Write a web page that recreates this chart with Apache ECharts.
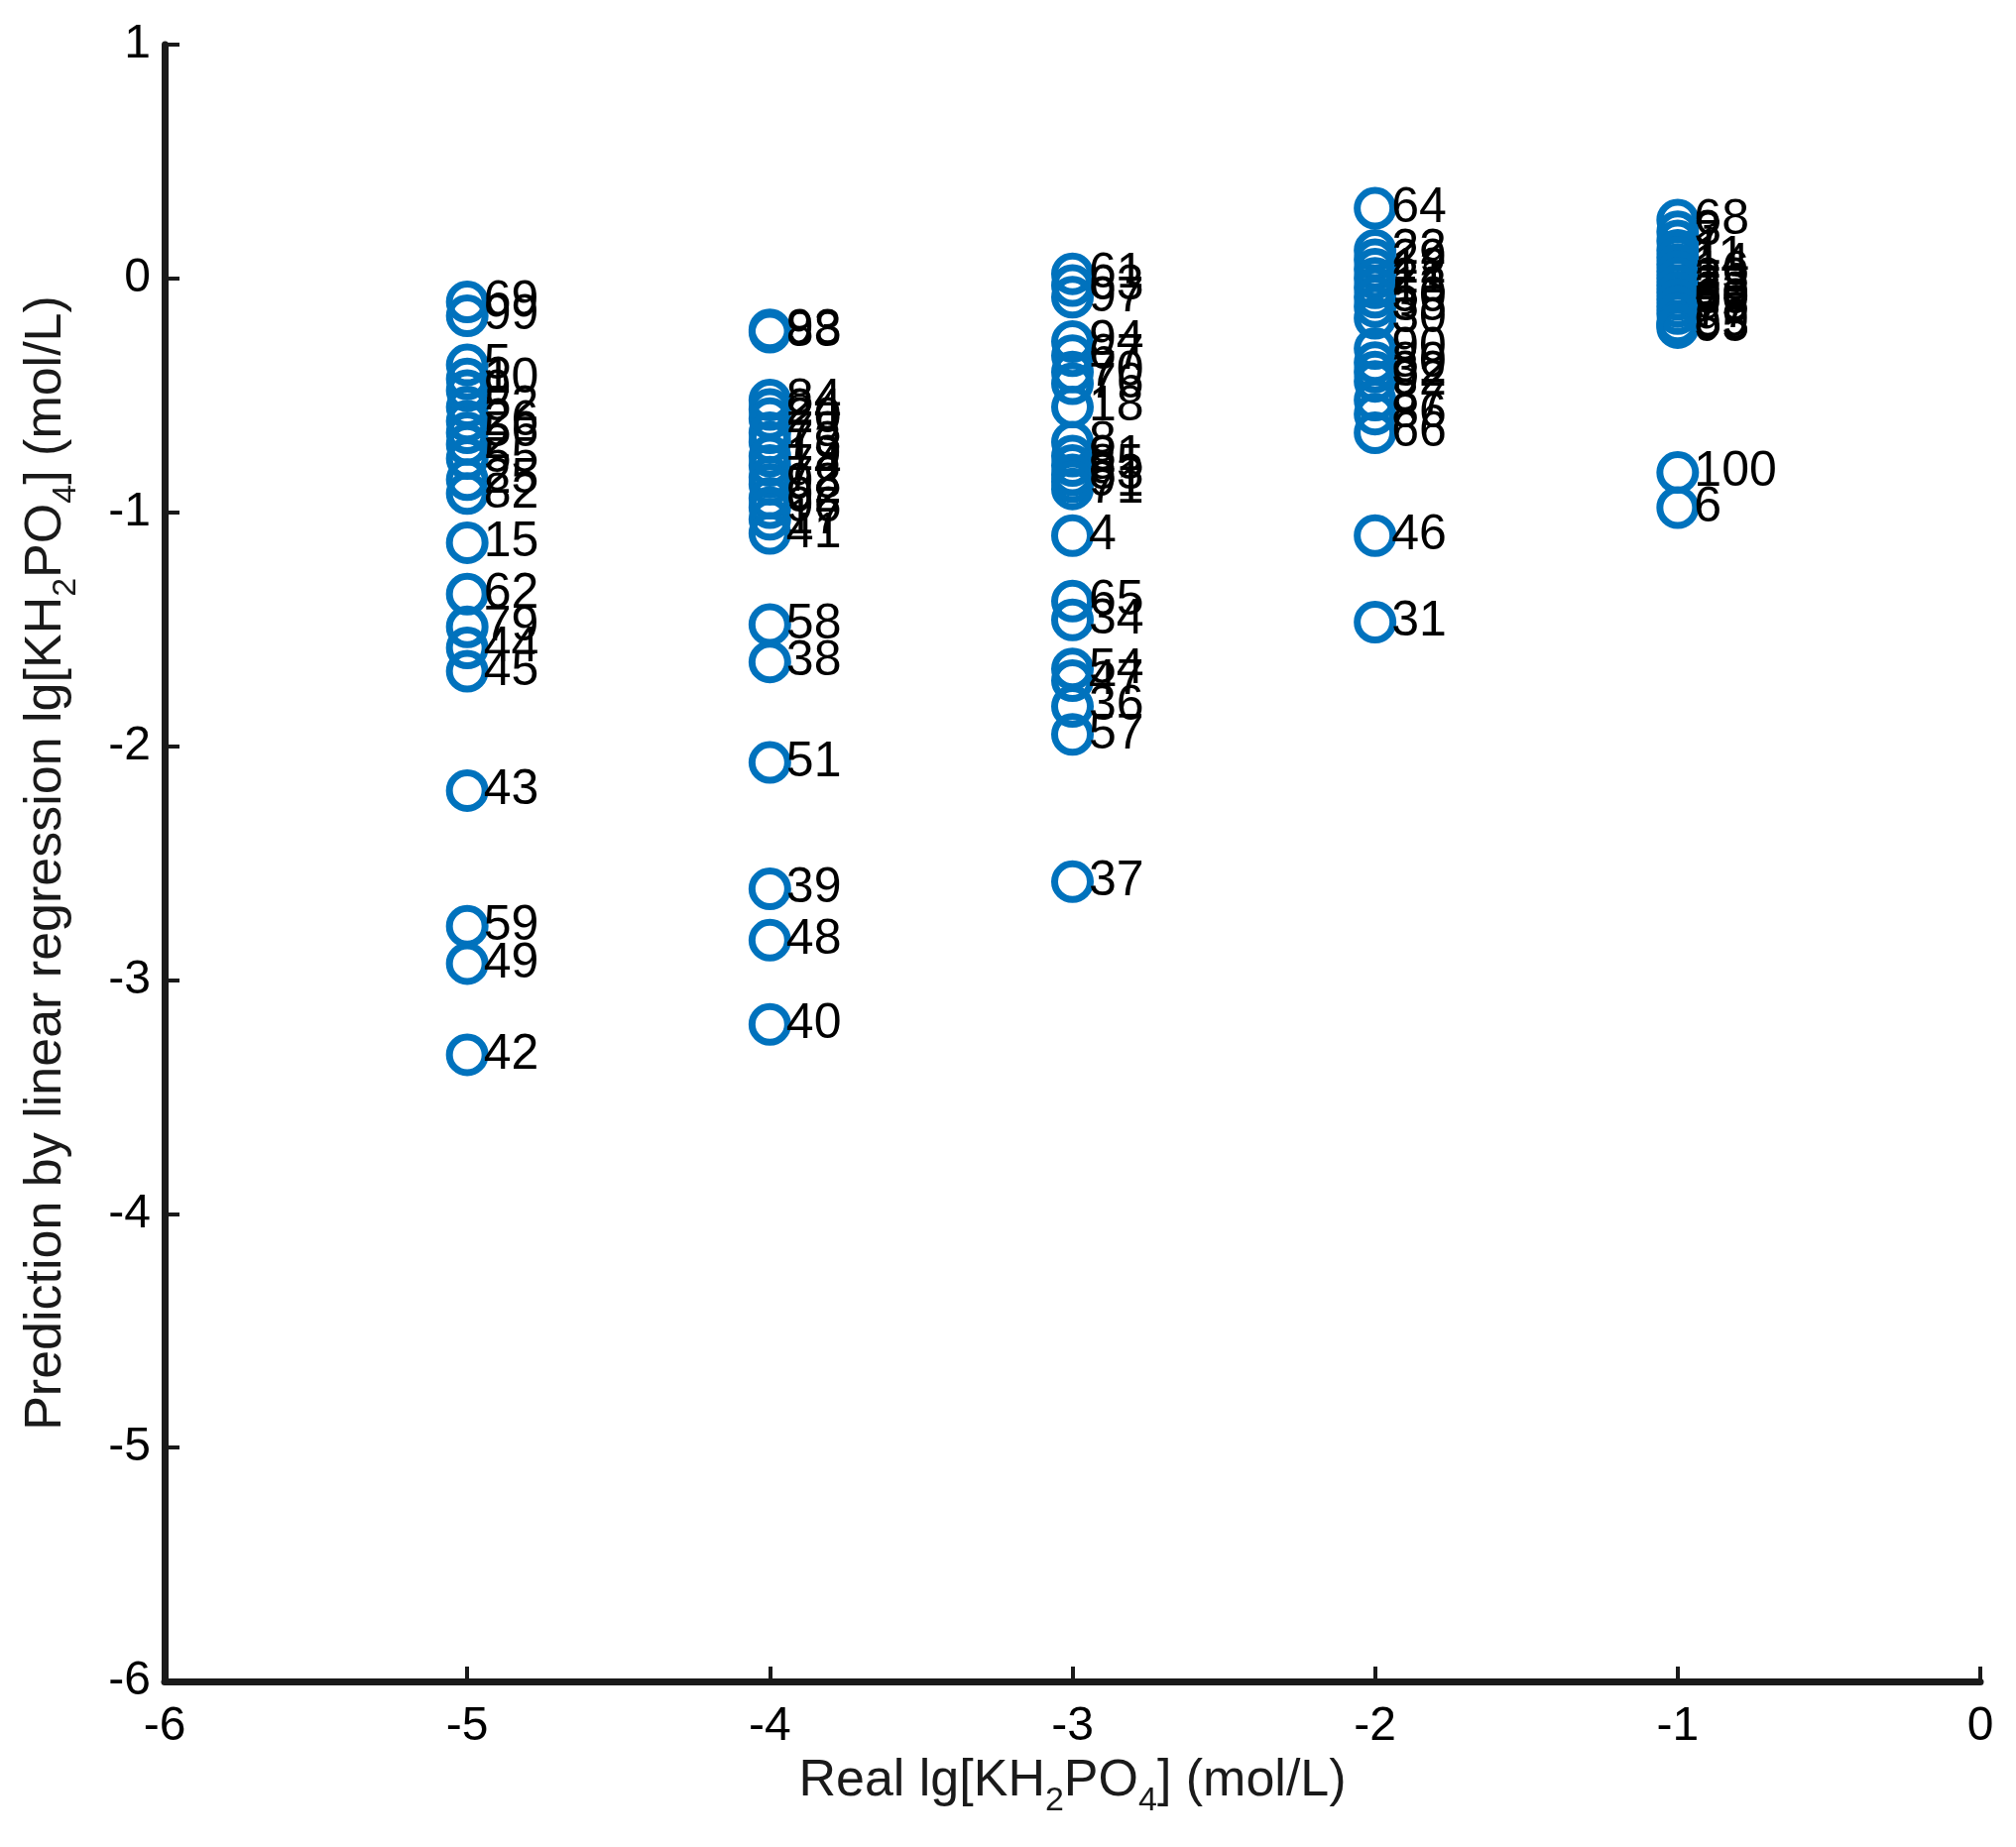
<!DOCTYPE html>
<html>
<head>
<meta charset="utf-8">
<script src="https://cdn.jsdelivr.net/npm/echarts@6/dist/echarts.min.js"></script>
<style>html,body{margin:0;padding:0;background:#fff;}#c{width:2033px;height:1863px;}</style>
</head>
<body>
<div id="c"></div>
<script>
// Real lg[KH2PO4] groups
const groupX = [-5, -4, -3, -2, -1];
// sample ids per group
const ids5 = [69, 99, 5, 10, 9, 52, 26, 56, 2, 55, 25, 82, 15, 62, 79, 44, 45, 43, 59, 49, 42];
const val5 = [-0.10, -0.16, -0.37, -0.43, -0.48, -0.55, -0.61, -0.66, -0.71, -0.77, -0.86, -0.92, -1.13, -1.35, -1.49, -1.58, -1.68, -2.19, -2.77, -2.93, -3.32];
const ids4 = [93, 88, 84, 24, 20, 78, 73, 19, 74, 72, 98, 92, 96, 17, 41, 58, 38, 51, 39, 48, 40];
const val4 = [-0.22, -0.23, -0.52, -0.56, -0.60, -0.66, -0.70, -0.76, -0.80, -0.85, -0.88, -0.94, -0.98, -1.03, -1.09, -1.48, -1.64, -2.07, -2.61, -2.83, -3.19];
const ids3 = [61, 63, 97, 94, 67, 70, 76, 18, 8, 81, 85, 83, 91, 71, 4, 65, 34, 54, 47, 36, 57, 37];
const val3 = [0.02, -0.03, -0.08, -0.27, -0.33, -0.40, -0.45, -0.55, -0.70, -0.76, -0.80, -0.84, -0.87, -0.90, -1.10, -1.38, -1.46, -1.67, -1.72, -1.83, -1.95, -2.58];
const ids2 = [64, 22, 29, 12, 21, 13, 50, 35, 30, 90, 80, 32, 92, 87, 86, 66, 46, 31];
const val2 = [0.30, 0.12, 0.08, 0.04, 0.00, -0.04, -0.08, -0.12, -0.17, -0.30, -0.36, -0.40, -0.44, -0.52, -0.58, -0.66, -1.10, -1.47];
const ids1 = [68, 3, 7, 1, 11, 14, 16, 23, 28, 33, 60, 75, 77, 89, 95, 53, 100, 6];
const val1 = [0.25, 0.20, 0.16, 0.12, 0.09, 0.06, 0.03, 0.00, -0.03, -0.06, -0.09, -0.12, -0.15, -0.19, -0.21, -0.20, -0.83, -0.98];
const xTicks = ['-6', '-5', '-4', '-3', '-2', '-1', '0'];
const yTicks = ['-6', '-5', '-4', '-3', '-2', '-1', '0', '1'];

const groups = [[ids5, val5], [ids4, val4], [ids3, val3], [ids2, val2], [ids1, val1]];
const data = [];
groups.forEach(function (g, gi) {
  g[0].forEach(function (id, i) { data.push([groupX[gi], g[1][i], id]); });
});

const FONT = 'Liberation Sans, Arial, sans-serif';
const rich = { s: { fontSize: 34, fontFamily: FONT, color: '#1a1a1a', padding: [40, 0, 0, 0] } };

const chart = echarts.init(document.getElementById('c'), null, { renderer: 'canvas' });
chart.setOption({
  animation: false,
  backgroundColor: '#fff',
  grid: { left: 166, right: 36, top: 45, bottom: 167 },
  xAxis: {
    type: 'value', min: -6, max: 0, interval: 1,
    name: 'Real lg[KH{s|2}PO{s|4}] (mol/L)',
    nameLocation: 'middle', nameGap: 64,
    nameTextStyle: { fontSize: 52, fontFamily: FONT, color: '#1a1a1a', rich: rich },
    axisLine: { onZero: false, lineStyle: { color: '#1a1a1a', width: 7 } },
    axisTick: { inside: true, length: 15, lineStyle: { color: '#1a1a1a', width: 4 } },
    axisLabel: { fontSize: 48, fontFamily: FONT, color: '#000', margin: 22,
      formatter: function (v) { return xTicks[Math.round(v) + 6]; } },
    splitLine: { show: false }
  },
  yAxis: {
    type: 'value', min: -6, max: 1, interval: 1,
    name: 'Prediction by linear regression lg[KH{s|2}PO{s|4}] (mol/L)',
    nameLocation: 'middle', nameGap: 82,
    nameTextStyle: { fontSize: 52, fontFamily: FONT, color: '#1a1a1a', rich: rich },
    axisLine: { onZero: false, lineStyle: { color: '#1a1a1a', width: 7 } },
    axisTick: { inside: true, length: 15, lineStyle: { color: '#1a1a1a', width: 4 } },
    axisLabel: { fontSize: 48, fontFamily: FONT, color: '#000', margin: 14,
      formatter: function (v) { return yTicks[Math.round(v) + 6]; } },
    splitLine: { show: false }
  },
  series: [{
    type: 'scatter',
    data: data,
    symbol: 'circle',
    symbolSize: 36,
    itemStyle: { color: 'rgba(0,0,0,0)', borderColor: '#0072BD', borderWidth: 7, opacity: 1 },
    label: {
      show: true, position: 'right', distance: -5,
      fontSize: 50, fontFamily: FONT, color: '#000',
      formatter: function (p) { return String(p.value[2]); }
    },
    emphasis: { disabled: true }
  }]
});
</script>
</body>
</html>
